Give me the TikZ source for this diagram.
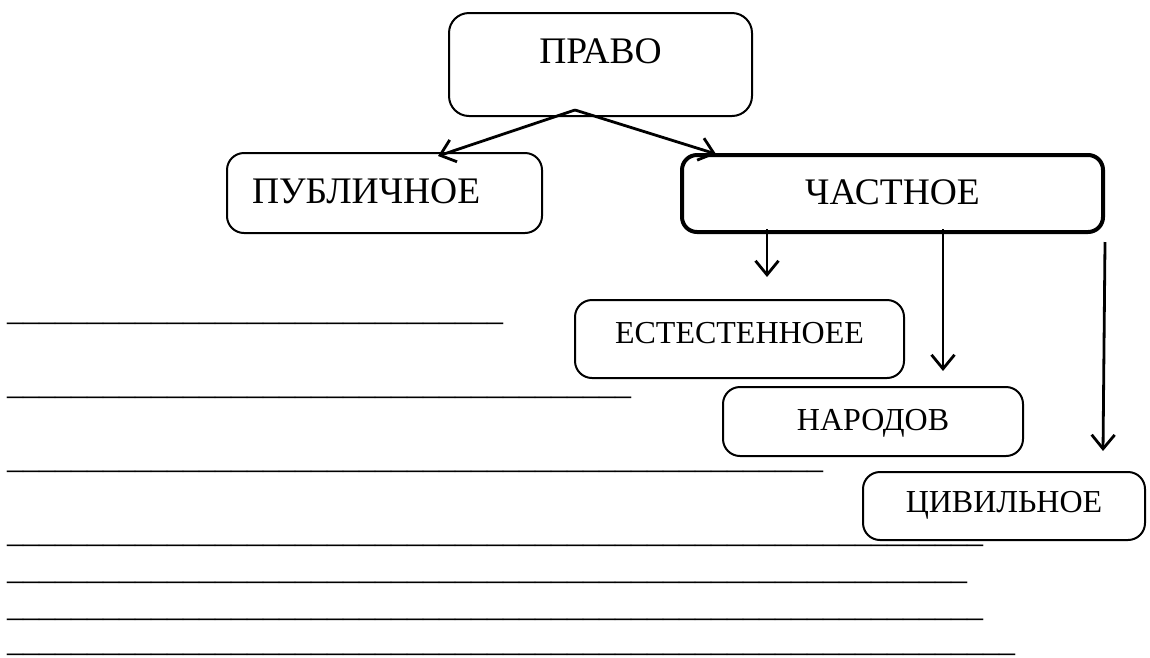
\documentclass[tikz,border=0pt]{standalone}
\usepackage{fontspec}
\setmainfont{Liberation Serif}
\usetikzlibrary{arrows.meta,calc}
\ExplSyntaxOn
\NewDocumentCommand\underscores{m}{\prg_replicate:nn{#1}{\_}}
\ExplSyntaxOff
\begin{document}
\begin{tikzpicture}[x=1pt,y=-1pt,
  box/.style={draw,line width=2pt,rounded corners=17pt,inner sep=0pt},
  big/.style={font=\fontsize{37.5}{42}\selectfont,text height=25pt},
  small/.style={font=\fontsize{32}{36}\selectfont,text height=21pt},
  conn/.style={line width=2.8pt,-{Straight Barb[length=14pt,width=23pt]}},
  ruleline/.style={anchor=base west,inner sep=0pt,font=\fontsize{32}{36}\selectfont}]
\fill[white] (0,0) rectangle (1150,657);
\useasboundingbox (0,0) rectangle (1150,657);

\node[box,big,rounded corners=20pt,minimum width=303pt,minimum height=103pt,text depth=28pt] (pravo) at (600.5,64.5) {ПРАВО};
\node[box,big,minimum width=315pt,minimum height=80pt,text depth=4pt,text width=265pt,align=left] (publ) at (384.5,193) {ПУБЛИЧНОЕ};
\node[box,big,line width=4pt,rounded corners=15pt,minimum width=421pt,minimum height=77pt,text depth=4pt] (chast) at (892.5,193.5) {ЧАСТНОЕ};
\node[box,small,minimum width=329pt,minimum height=78pt,text depth=13pt] (este) at (739.5,339) {ЕСТЕСТЕННОЕЕ};
\node[box,small,minimum width=300pt,minimum height=69pt,text depth=4pt] (narod) at (873,421.5) {НАРОДОВ};
\node[box,small,minimum width=282pt,minimum height=68pt,text depth=9pt] (civil) at (1004,506) {ЦИВИЛЬНОЕ};

\coordinate (apex) at ($(pravo.south)+(-25.5,-7)$);
\draw[conn] (apex) -- ($(publ.north east)+(-105,4)$);
\draw[conn] (apex) -- ($(chast.north west)+(36,1)$);
\draw[conn] ($(chast.south)+(-125.5,-5)$) -- ($(este.north)+(27.5,-22)$);
\draw[conn] ($(chast.south)+(50.5,-5)$) -- ($(narod.north)+(70,-15)$);
\draw[conn] ($(chast.south east)+(0,8)$) -- ($(civil.north)+(99,-20)$);

\node[ruleline] (r1) at (7,320) {\underscores{31}};
\node[ruleline] (r2) at (7,394) {\underscores{39}};
\node[ruleline] (r3) at (7,468) {\underscores{51}};
\node[ruleline] (r4) at (7,542) {\underscores{61}};
\node[ruleline] (r5) at (7,579) {\underscores{60}};
\node[ruleline] (r6) at (7,616) {\underscores{61}};
\node[ruleline] (r7) at (7,651) {\underscores{63}};
\end{tikzpicture}
\end{document}
